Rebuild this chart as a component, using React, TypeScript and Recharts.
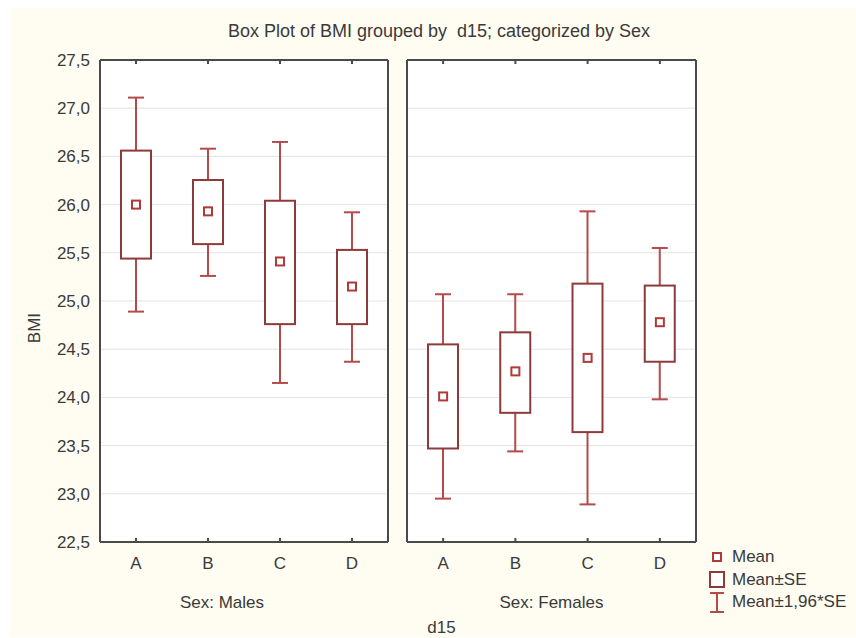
import React from 'react';
import { ComposedChart, Bar, Scatter, XAxis, YAxis, CartesianGrid, Legend, Label } from 'recharts';

const categories = ['A', 'B', 'C', 'D'];
const yTicks = [22.5, 23, 23.5, 24, 24.5, 25, 25.5, 26, 26.5, 27, 27.5];

// Sex: Males
const maleMean = [26.0, 25.93, 25.41, 25.15];
const maleSeLow = [25.44, 25.59, 24.76, 24.76];
const maleSeHigh = [26.56, 26.255, 26.04, 25.53];
const maleCiLow = [24.89, 25.26, 24.15, 24.37];
const maleCiHigh = [27.11, 26.58, 26.65, 25.92];

// Sex: Females
const femaleMean = [24.01, 24.27, 24.41, 24.78];
const femaleSeLow = [23.47, 23.84, 23.64, 24.37];
const femaleSeHigh = [24.55, 24.675, 25.18, 25.16];
const femaleCiLow = [22.95, 23.44, 22.89, 23.98];
const femaleCiHigh = [25.07, 25.07, 25.93, 25.55];

const legendOrder = ['Mean', 'Mean±SE', 'Mean±1,96*SE'];

const FONT = '"Liberation Sans", Arial, sans-serif';
const TEXT = '#3a3a3a';
const FRAME = '#4a4a4a';
const GRID = '#e3e3e3';
const BOX = '#8e3a3a';
const WHISK = '#b44a4a';
const MEAN = '#b03a3a';
const FS = 17;

const buildRows = (mean: number[], seLow: number[], seHigh: number[], ciLow: number[], ciHigh: number[]) =>
  categories.map((cat, i) => ({
    cat,
    mean: mean[i],
    se: [seLow[i], seHigh[i]],
    ci: [ciLow[i], ciHigh[i]],
  }));

const maleRows = buildRows(maleMean, maleSeLow, maleSeHigh, maleCiLow, maleCiHigh);
const femaleRows = buildRows(femaleMean, femaleSeLow, femaleSeHigh, femaleCiLow, femaleCiHigh);

const fmt = (v: number) => v.toFixed(1).replace('.', ',');

const EmptyTick = () => <g />;

const Whisker = (props: any) => {
  const { x, y, width, height } = props;
  const top = Math.min(y, y + height);
  const bot = Math.max(y, y + height);
  const cx = x + width / 2;
  return (
    <g stroke={WHISK} strokeWidth={2} fill="none">
      <line x1={cx} x2={cx} y1={top} y2={bot} />
      <line x1={x} x2={x + width} y1={top} y2={top} />
      <line x1={x} x2={x + width} y1={bot} y2={bot} />
    </g>
  );
};

const SeBox = (props: any) => {
  const { x, y, width, height } = props;
  const top = Math.min(y, y + height);
  return <rect x={x} y={top} width={width} height={Math.abs(height)} fill="#fff" stroke={BOX} strokeWidth={2} />;
};

const MeanMark = (props: any) => {
  const { cx, cy } = props;
  return <rect x={cx - 4} y={cy - 4} width={8} height={8} fill="#fff" stroke={MEAN} strokeWidth={2} />;
};

const LegendIcon = ({ name }: { name: string }) => {
  if (name === 'Mean') {
    return (
      <svg width={16} height={22}>
        <rect x={4} y={7} width={8} height={8} fill="#fff" stroke={MEAN} strokeWidth={2} />
      </svg>
    );
  }
  if (name === 'Mean±SE') {
    return (
      <svg width={16} height={22}>
        <rect x={1} y={3} width={14} height={15} fill="#fff" stroke={BOX} strokeWidth={2} />
      </svg>
    );
  }
  return (
    <svg width={16} height={22}>
      <g stroke={WHISK} strokeWidth={2}>
        <line x1={8} x2={8} y1={2} y2={21} />
        <line x1={1} x2={15} y1={2} y2={2} />
        <line x1={1} x2={15} y1={21} y2={21} />
      </g>
    </svg>
  );
};

const renderLegend = (props: any) => {
  const items = [...(props.payload || [])].sort(
    (a: any, b: any) => legendOrder.indexOf(a.value) - legendOrder.indexOf(b.value)
  );
  return (
    <div style={{ fontFamily: FONT, fontSize: FS, color: TEXT }}>
      {items.map((it: any) => (
        <div key={it.value} style={{ display: 'flex', alignItems: 'center', height: 22.5 }}>
          <LegendIcon name={it.value} />
          <span style={{ marginLeft: 7, whiteSpace: 'nowrap' }}>{it.value}</span>
        </div>
      ))}
    </div>
  );
};

interface PanelProps {
  rows: any[];
  label: string;
  labelDx: number;
  left: number;
  width: number;
  margin: { top: number; right: number; bottom: number; left: number };
  yWidth: number;
  first: boolean;
}

const Panel = ({ rows, label, labelDx, left, width, margin, yWidth, first }: PanelProps) => (
  <div style={{ position: 'absolute', left, top: 0 }}>
    <ComposedChart width={width} height={638} data={rows} margin={margin}>
      <CartesianGrid horizontal vertical={false} stroke={GRID} fill="#fff" fillOpacity={1} xAxisId="a" yAxisId="l" />
      <XAxis
        xAxisId="a"
        dataKey="cat"
        height={80}
        axisLine={{ stroke: FRAME, strokeWidth: 2 }}
        tickLine={false}
        tickSize={0}
        tickMargin={15}
        tick={{ fill: TEXT, fontSize: FS, fontFamily: FONT }}
      >
        <Label
          content={(p: any) => {
            const vb = p.viewBox;
            return (
              <g fontFamily={FONT} fontSize={FS} fill={TEXT}>
                <text x={vb.x + vb.width / 2 + labelDx} y={vb.y + 66} textAnchor="middle">
                  {label}
                </text>
                {!first && (
                  <text x={vb.x + vb.width / 2 - 110} y={vb.y + 91} textAnchor="middle">
                    d15
                  </text>
                )}
              </g>
            );
          }}
        />
      </XAxis>
      <XAxis
        xAxisId="t"
        dataKey="cat"
        orientation="top"
        mirror
        tick={EmptyTick}
        tickSize={4}
        axisLine={{ stroke: FRAME, strokeWidth: 2 }}
        tickLine={{ stroke: FRAME, strokeWidth: 2 }}
      />
      <XAxis
        xAxisId="bm"
        dataKey="cat"
        orientation="bottom"
        mirror
        tick={EmptyTick}
        tickSize={4}
        axisLine={false}
        tickLine={{ stroke: FRAME, strokeWidth: 2 }}
      />
      <YAxis
        yAxisId="l"
        type="number"
        domain={[22.5, 27.5]}
        ticks={yTicks}
        width={yWidth}
        axisLine={{ stroke: FRAME, strokeWidth: 2 }}
        tickLine={false}
        tickSize={0}
        tickMargin={10}
        tickFormatter={fmt}
        tick={first ? { fill: TEXT, fontSize: FS, fontFamily: FONT } : EmptyTick}
      >
        {first && (
          <Label
            content={(p: any) => {
              const vb = p.viewBox;
              const x = vb.x + 29.5;
              const y = vb.y + 268;
              return (
                <text
                  x={x}
                  y={y}
                  textAnchor="middle"
                  transform={`rotate(-90 ${x} ${y})`}
                  fontFamily={FONT}
                  fontSize={FS}
                  fill={TEXT}
                >
                  BMI
                </text>
              );
            }}
          />
        )}
      </YAxis>
      <YAxis
        yAxisId="lm"
        type="number"
        domain={[22.5, 27.5]}
        ticks={yTicks}
        mirror
        tick={EmptyTick}
        tickSize={4}
        axisLine={false}
        tickLine={{ stroke: FRAME, strokeWidth: 2 }}
      />
      <YAxis
        yAxisId="r"
        type="number"
        orientation="right"
        domain={[22.5, 27.5]}
        ticks={yTicks}
        mirror
        tick={EmptyTick}
        tickSize={4}
        axisLine={{ stroke: FRAME, strokeWidth: 2 }}
        tickLine={{ stroke: FRAME, strokeWidth: 2 }}
      />
      <Bar
        name="Mean±1,96*SE"
        dataKey="ci"
        xAxisId="a"
        yAxisId="l"
        barSize={16}
        shape={Whisker}
        isAnimationActive={false}
      />
      <Bar
        name="Mean±SE"
        dataKey="se"
        xAxisId="t"
        yAxisId="l"
        barSize={30}
        shape={SeBox}
        isAnimationActive={false}
      />
      <Scatter name="Mean" dataKey="mean" xAxisId="a" yAxisId="l" shape={MeanMark} isAnimationActive={false} />
      {!first && (
        <Legend
          layout="vertical"
          align="center"
          verticalAlign="middle"
          content={renderLegend}
          wrapperStyle={{ left: 309, top: 546, width: 150 }}
        />
      )}
    </ComposedChart>
  </div>
);

export default function App() {
  return (
    <div style={{ position: 'relative', width: 856, height: 638, background: '#fff', overflow: 'hidden' }}>
      <style>{'body{margin:0}'}</style>
      <div style={{ position: 'absolute', left: 10, top: 8, width: 846, height: 629, background: '#fffcf1' }} />
      <div
        style={{
          position: 'absolute',
          left: 11,
          top: 21,
          width: 856,
          textAlign: 'center',
          fontFamily: FONT,
          fontSize: 18,
          lineHeight: '20px',
          color: TEXT,
          whiteSpace: 'pre',
        }}
      >
        {'Box Plot of BMI grouped by  d15; categorized by Sex'}
      </div>
      <Panel
        rows={maleRows}
        label="Sex: Males"
        labelDx={-22}
        left={0}
        width={400}
        margin={{ top: 60, right: 12, bottom: 16, left: 10 }}
        yWidth={90}
        first
      />
      <Panel
        rows={femaleRows}
        label="Sex: Females"
        labelDx={0}
        left={400}
        width={456}
        margin={{ top: 60, right: 160, bottom: 16, left: 0 }}
        yWidth={7}
        first={false}
      />
    </div>
  );
}
